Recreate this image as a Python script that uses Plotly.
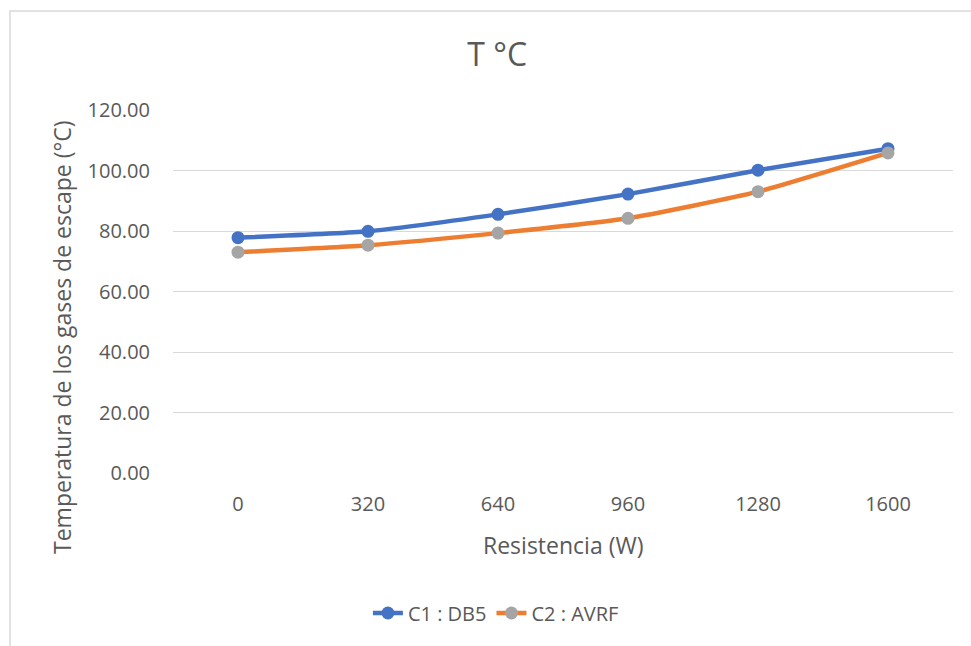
import plotly.graph_objects as go

categories = ["0", "320", "640", "960", "1280", "1600"]
c1_db5 = [77.8, 79.9, 85.5, 92.2, 100.1, 107.2]
c2_avrf = [73.0, 75.3, 79.3, 84.2, 93.0, 105.8]
y_ticks = [0, 20, 40, 60, 80, 100, 120]
y_tick_text = [f"{v:.2f}" for v in y_ticks]

FONT = "Open Sans, Liberation Sans, sans-serif"
GRAY = "#595959"

fig = go.Figure()
fig.add_trace(go.Scatter(
    x=categories, y=c1_db5, name="C1 : DB5", mode="lines+markers",
    line=dict(color="#4472C4", width=4.5, shape="spline", smoothing=0.5),
    marker=dict(color="#4472C4", size=13),
))
fig.add_trace(go.Scatter(
    x=categories, y=c2_avrf, name="C2 : AVRF", mode="lines+markers",
    line=dict(color="#ED7D31", width=4.5, shape="spline", smoothing=0.5),
    marker=dict(color="#A5A5A5", size=13),
))

fig.update_layout(
    width=971, height=646,
    margin=dict(l=173, r=18, t=110, b=173),
    paper_bgcolor="white", plot_bgcolor="white",
    font=dict(family=FONT, color=GRAY, size=20),
    title=dict(text="T °C", x=0.512, xanchor="center", y=0.915, yanchor="middle",
               font=dict(size=32, color=GRAY, family=FONT)),
    xaxis=dict(type="category", range=[-0.5, 5.5], showgrid=False,
               showline=False, zeroline=False, ticks="", automargin=False,
               tickfont=dict(size=20, color=GRAY), ticklabelstandoff=17),
    yaxis=dict(range=[0, 120], tickvals=y_ticks, ticktext=y_tick_text,
               showgrid=True, gridcolor="#D9D9D9", gridwidth=1.3,
               zeroline=False, showline=False, ticks="", automargin=False,
               tickfont=dict(size=20, color=GRAY), ticklabelstandoff=22),
    legend=dict(orientation="h", x=0.414, xanchor="center", y=-140/363, yanchor="middle",
                font=dict(size=20, color=GRAY)),
    showlegend=True,
)

fig.add_annotation(text="Resistencia (W)", xref="paper", yref="paper",
                   x=0.5, y=-72/363, xanchor="center", yanchor="middle",
                   showarrow=False, font=dict(size=23, color=GRAY))
fig.add_annotation(text="Temperatura de los gases de escape (°C)", xref="paper", yref="paper",
                   x=-111/780, y=(473 - 337) / 363, xanchor="center", yanchor="middle",
                   textangle=-90, showarrow=False, font=dict(size=23, color=GRAY))

fig.add_shape(type="rect", xref="paper", yref="paper",
              x0=-163/780, x1=1.2, y0=-0.7, y1=1 + 99/363,
              line=dict(color="#D9D9D9", width=1.5), fillcolor="rgba(0,0,0,0)",
              layer="below")

fig.write_html("out.html")
